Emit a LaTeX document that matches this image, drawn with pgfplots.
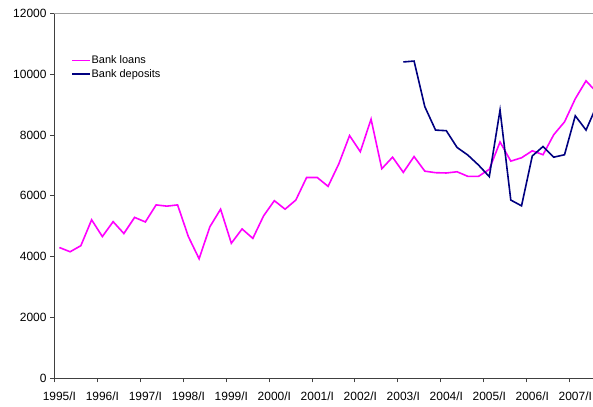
\documentclass[border=0pt]{standalone}
\usepackage{fontspec}
\setmainfont{Liberation Sans}
\usepackage{pgfplots}
\pgfplotsset{compat=1.18}

\begin{document}
\begin{tikzpicture}

    \definecolor{loanpink}{RGB}{255,0,255}
    \definecolor{depnavy}{RGB}{0,0,128}
    \definecolor{axisgray}{RGB}{64,64,64}
    \definecolor{framegray}{RGB}{160,160,160}

    \begin{axis}[
            at={(54bp,28.7bp)}, anchor=south west,
            scale only axis, width=539bp, height=365bp,
            xmin=-0.5, xmax=49.65,
            ymin=0, ymax=12000,
            axis x line*=bottom, axis y line*=left,
            axis line style={draw=axisgray, line width=0.9bp},
            tick align=outside,
            major tick length=4bp,
            tick style={draw=axisgray, line width=0.9bp},
            xtick={-0.5,3.5,...,47.5},
            xticklabels={1995/I,1996/I,1997/I,1998/I,1999/I,2000/I,2001/I,2002/I,2003/I,2004/I,2005/I,2006/I,2007/I},
            xticklabel style={xshift=5.4bp, yshift=-6bp, font=\fontsize{12}{14}\selectfont},
            ytick={0,2000,...,12000},
            scaled y ticks=false,
            yticklabel style={font=\fontsize{12}{14}\selectfont, /pgf/number format/1000 sep={}},
            /pgf/number format/assume math mode=true,
            legend style={draw=none, fill=none, inner sep=0pt, at={(0.0316,0.886)}, anchor=north west,
                font=\fontsize{11}{13}\selectfont, nodes={inner sep=0.8bp}, row sep=2.5bp},
            legend cell align=left,
            legend image code/.code={\draw[#1] (0bp,0bp) -- (18bp,0bp);},
        ]
        \draw[framegray, line width=0.9bp] (rel axis cs:0,1) -- (rel axis cs:1,1);

        \addplot [loanpink, line width=1.6bp]
        table {%
                x y
                0 4300
                1 4160
                2 4360
                3 5210
                4 4660
                5 5150
                6 4760
                7 5290
                8 5140
                9 5700
                10 5660
                11 5700
                12 4660
                13 3930
                14 4980
                15 5560
                16 4440
                17 4910
                18 4600
                19 5340
                20 5840
                21 5560
                22 5860
                23 6600
                24 6600
                25 6310
                26 7050
                27 7980
                28 7450
                29 8520
                30 6890
                31 7270
                32 6770
                33 7290
                34 6810
                35 6760
                36 6750
                37 6790
                38 6640
                39 6640
                40 6870
                41 7770
                42 7140
                43 7250
                44 7480
                45 7350
                46 8010
                47 8430
                48 9190
                49 9780
                50 9400
            };
        \addlegendentry{Bank loans}

        \addplot [depnavy, line width=1.6bp]
        table {%
                x y
                32 10400
                33 10430
                34 8930
                35 8160
                36 8140
                37 7590
                38 7340
                39 7010
                40 6630
                41 8820
                42 5860
                43 5670
                44 7310
                45 7620
                46 7270
                47 7350
                48 8630
                49 8160
                50 8970
            };
        \addlegendentry{Bank deposits}
    \end{axis}

    \pgfresetboundingbox
    \path[use as bounding box] (0bp,0bp) rectangle (593bp,407bp);

\end{tikzpicture}
\end{document}
